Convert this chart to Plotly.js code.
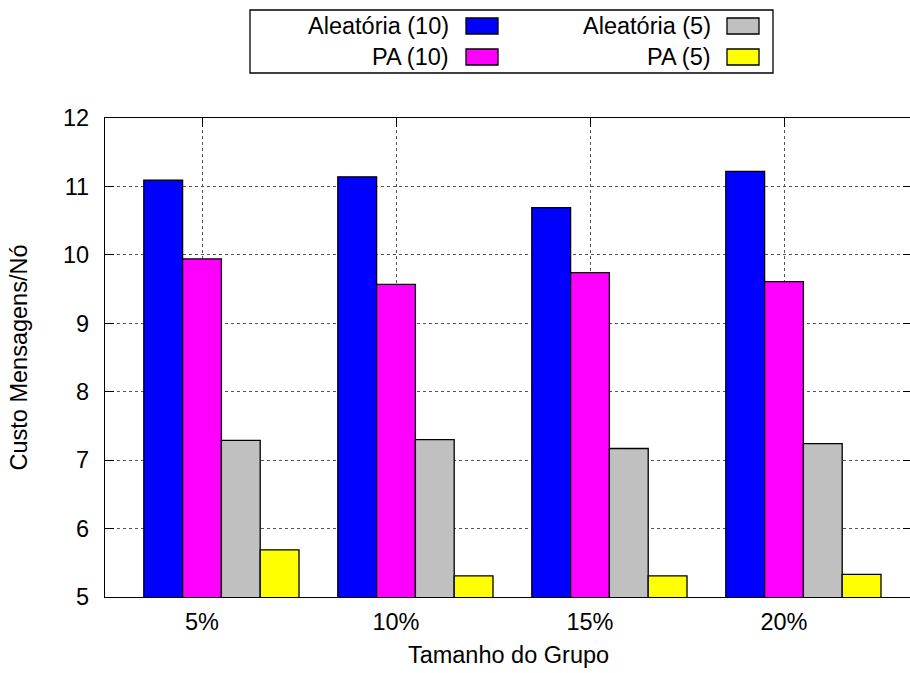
<!DOCTYPE html>
<html>
<head>
<meta charset="utf-8">
<script src="https://cdn.plot.ly/plotly-3.0.1.min.js"></script>
<style>html,body{margin:0;padding:0;overflow:hidden;background:#fff;}</style>
</head>
<body>
<div id="chart"></div>
<script>
const categories = ['5%', '10%', '15%', '20%'];
const aleatoria10 = [11.09, 11.14, 10.69, 11.22];
const pa10 = [9.94, 9.57, 9.74, 9.61];
const aleatoria5 = [7.29, 7.30, 7.17, 7.24];
const pa5 = [5.69, 5.31, 5.31, 5.33];
const seriesNames = ['Aleatória (10)', 'PA (10)', 'Aleatória (5)', 'PA (5)'];
const seriesColors = ['#0000ff', '#ff00ff', '#c0c0c0', '#ffff00'];
const yTicks = [5, 6, 7, 8, 9, 10, 11, 12];

const seriesValues = [aleatoria10, pa10, aleatoria5, pa5];
const FONT = 'Liberation Sans, Arial, Helvetica, sans-serif';
const FS = 23.5;
const W = 912, H = 673;
const L = 105, T = 118, B = 76, R = 0;
const plotW = W - L - R, plotH = H - T - B;
const px = x => (x - L) / plotW;
const py = y => (H - B - y) / plotH;

const barW = 0.2;
const traces = seriesValues.map((vals, i) => ({
  type: 'bar',
  x: categories,
  y: vals,
  name: seriesNames[i],
  width: barW,
  offset: -0.3 + i * barW,
  marker: {color: seriesColors[i], line: {color: '#000', width: 1.3}},
  showlegend: false,
  hoverinfo: 'x+y+name'
}));

// custom legend (text left of swatch, like gnuplot)
const shapes = [];
const annotations = [];
shapes.push({type: 'rect', xref: 'paper', yref: 'paper',
  x0: px(250), x1: px(773), y0: py(73), y1: py(10),
  line: {color: '#000', width: 1.3}, fillcolor: 'rgba(0,0,0,0)'});
const colText = [451, 713], colSw = [466, 727], rowY = [26, 57];
seriesNames.forEach((name, i) => {
  const c = Math.floor(i / 2), r = i % 2;
  annotations.push({xref: 'paper', yref: 'paper', x: px(colText[c]), y: py(rowY[r]),
    xanchor: 'right', yanchor: 'middle', showarrow: false, text: name,
    font: {family: FONT, size: FS, color: '#000'}});
  shapes.push({type: 'rect', xref: 'paper', yref: 'paper',
    x0: px(colSw[c]), x1: px(colSw[c] + 32), y0: py(rowY[r] + 8), y1: py(rowY[r] - 8),
    line: {color: '#000', width: 1.3}, fillcolor: seriesColors[i]});
});

const layout = {
  width: W, height: H,
  margin: {l: L, r: R, t: T, b: B, pad: 0},
  paper_bgcolor: '#fff', plot_bgcolor: '#fff',
  barmode: 'overlay',
  font: {family: FONT, size: FS, color: '#000'},
  xaxis: {
    type: 'category', range: [-0.5, -0.5 + plotW / 194],
    showline: true, linecolor: '#000', linewidth: 1.3, mirror: 'ticks',
    ticks: 'inside', ticklen: 9, tickwidth: 1.3, tickcolor: '#000',
    showgrid: true, gridcolor: '#555', griddash: 'dot', gridwidth: 1,
    ticklabelstandoff: 4,
    layer: 'below traces',
    title: {text: 'Tamanho do Grupo', font: {family: FONT, size: FS}, standoff: 12},
    automargin: false, fixedrange: true
  },
  yaxis: {
    range: [5, 12], tickvals: yTicks, ticktext: yTicks.map(String),
    showline: true, linecolor: '#000', linewidth: 1.3, mirror: 'ticks',
    ticks: 'inside', ticklen: 9, tickwidth: 1.3, tickcolor: '#000',
    showgrid: true, gridcolor: '#555', griddash: 'dot', gridwidth: 1,
    zeroline: false, ticklabelstandoff: 10,
    title: {text: 'Custo Mensagens/Nó', font: {family: FONT, size: FS}, standoff: 28},
    automargin: false, fixedrange: true
  },
  shapes: shapes,
  annotations: annotations
};

Plotly.newPlot('chart', traces, layout, {displayModeBar: false, responsive: false});
</script>
</body>
</html>
